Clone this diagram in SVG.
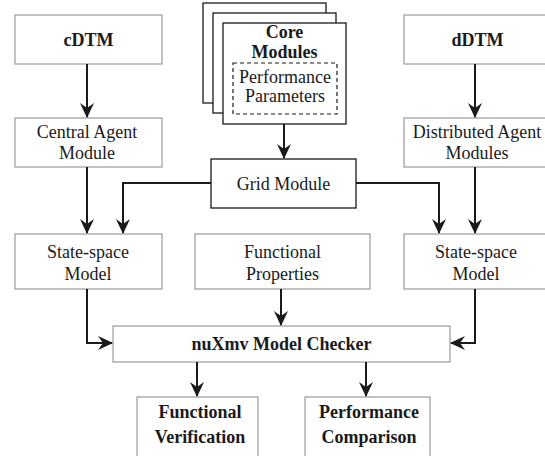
<svg xmlns="http://www.w3.org/2000/svg" width="545" height="456" viewBox="0 0 545 456" font-family="'Liberation Serif', 'DejaVu Serif', serif">
<defs>
<marker id="ah" viewBox="0 0 15 14" refX="14" refY="7" markerWidth="15" markerHeight="14" markerUnits="userSpaceOnUse" orient="auto">
<path d="M0,0 L15,7 L0,14 L5,7 z" fill="#1a1a1a"/>
</marker>
</defs>
<style>
.box{fill:#fff;stroke:#9a9a9a;stroke-width:1.2}
.bbox{fill:#fff;stroke:#1a1a1a;stroke-width:1.3}
.dash{fill:none;stroke:#1a1a1a;stroke-width:1.2;stroke-dasharray:4,3}
.t{font-family:'Liberation Serif','DejaVu Serif',serif;font-size:18px;fill:#1a1a1a;text-anchor:middle}
.b{font-weight:bold}
.c{fill:none;stroke:#1a1a1a;stroke-width:2;marker-end:url(#ah)}
</style>
<rect width="545" height="456" fill="#fff"/>
<g id="cDTM"><rect class="box" x="15" y="15" width="147" height="49"/><text class="t b" x="88.5" y="46">cDTM</text></g>
<g id="core"><rect class="bbox" x="203" y="3" width="123" height="100"/><rect class="bbox" x="213" y="13" width="123" height="100"/><rect class="bbox" x="223" y="23" width="123" height="101"/>
<text class="t b" x="284.5" y="38">Core</text><text class="t b" x="284.5" y="58">Modules</text>
<rect class="dash" x="233" y="63" width="104" height="51"/>
<text class="t" x="285" y="83">Performance</text><text class="t" x="285" y="102">Parameters</text></g>
<g id="dDTM"><rect class="box" x="404" y="15" width="147" height="49"/><text class="t b" x="477.5" y="46">dDTM</text></g>
<g id="central"><rect class="box" x="15" y="118" width="147" height="49"/><text class="t" x="87" y="138">Central Agent</text><text class="t" x="87" y="159">Module</text></g>
<g id="distributed"><rect class="box" x="404" y="118" width="147" height="49"/><text class="t" x="477" y="138">Distributed Agent</text><text class="t" x="477" y="159">Modules</text></g>
<g id="grid"><rect class="bbox" x="211" y="159" width="145" height="49"/><text class="t" x="283.5" y="190">Grid Module</text></g>
<g id="ssl"><rect class="box" x="15" y="234" width="147" height="55"/><text class="t" x="88" y="258">State-space</text><text class="t" x="88" y="280">Model</text></g>
<g id="fp"><rect class="box" x="195" y="234" width="175" height="55"/><text class="t" x="282.5" y="258">Functional</text><text class="t" x="282.5" y="280">Properties</text></g>
<g id="ssr"><rect class="box" x="404" y="234" width="147" height="55"/><text class="t" x="476" y="258">State-space</text><text class="t" x="476" y="280">Model</text></g>
<g id="nuxmv"><rect class="box" x="113" y="326" width="337" height="36"/><text class="t b" x="281.5" y="350">nuXmv Model Checker</text></g>
<g id="fv"><rect class="box" x="137" y="397" width="121" height="70"/><text class="t b" x="200" y="418">Functional</text><text class="t b" x="200" y="443">Verification</text></g>
<g id="pc"><rect class="box" x="305" y="397" width="125" height="70"/><text class="t b" x="369" y="418">Performance</text><text class="t b" x="369" y="443">Comparison</text></g>
<g id="connectors">
<path class="c" d="M87,64 V117"/>
<path class="c" d="M475,64 V117"/>
<path class="c" d="M284,124 V158"/>
<path class="c" d="M87,167 V233"/>
<path class="c" d="M475,167 V233"/>
<path class="c" d="M211,183 H123 V233"/>
<path class="c" d="M356,183 H439 V233"/>
<path class="c" d="M87,289 V343 H112"/>
<path class="c" d="M475,289 V343 H451"/>
<path class="c" d="M281,289 V325"/>
<path class="c" d="M197,362 V396"/>
<path class="c" d="M366,362 V396"/>
</g>
</svg>
